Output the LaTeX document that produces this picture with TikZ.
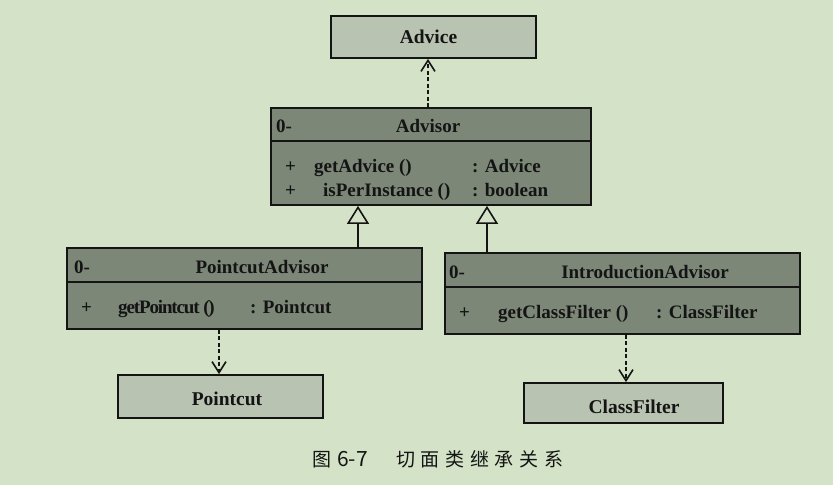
\documentclass[tikz,border=0pt]{standalone}
\usepackage{fontspec}
\setmainfont{Liberation Serif}
\newfontfamily\cjk{Noto Sans CJK SC}
\usetikzlibrary{arrows.meta}
\definecolor{bg}{HTML}{D4E3C7}
\definecolor{lightbox}{HTML}{B9C3B1}
\definecolor{darkbox}{HTML}{7C8777}
\definecolor{ink}{HTML}{141414}
\begin{document}
\begin{tikzpicture}[x=1pt,y=-1pt,
  lightcls/.style={draw=ink, line width=1.8pt, fill=lightbox, inner sep=0pt},
  darkcls/.style={draw=ink, line width=1.8pt, fill=darkbox, inner sep=0pt},
  divider/.style={draw=ink, line width=1.8pt},
  txt/.style={text=ink, inner sep=0pt, font=\fontsize{19}{22}\selectfont\bfseries},
  btxt/.style={text=ink, inner sep=0pt, font=\fontsize{19.5}{22}\selectfont\bfseries},
  captxt/.style={text=ink, inner sep=0pt, anchor=base west, font=\cjk\fontsize{19}{22}\selectfont},
  dep/.style={draw=ink, line width=1.6pt, dash pattern=on 4pt off 2.5pt, -{Straight Barb[length=11pt,width=14pt,line width=1.6pt]}},
  inh/.style={draw=ink, line width=1.6pt, -{Triangle[open, length=18pt, width=22pt, fill=bg, line width=1.6pt]}}
]
\fill[bg] (0,0) rectangle (833,485);
\useasboundingbox (0,0) rectangle (833,485);

% light boxes
\node[lightcls, minimum width=205pt, minimum height=42pt] (advice) at (433.5,37) {};
\node[btxt, anchor=base] (advicet) at (428.5,43) {Advice};
\node[lightcls, minimum width=205pt, minimum height=43pt] (pointcut) at (220.5,396.5) {};
\node[btxt, anchor=base] (pointcutt) at (227,405) {Pointcut};
\node[lightcls, minimum width=199pt, minimum height=40pt] (classfilter) at (623.5,403) {};
\node[btxt, anchor=base] (classfiltert) at (634,413) {ClassFilter};

% Advisor
\node[darkcls, minimum width=320pt, minimum height=97pt] (advisor) at (431,156.5) {};
\coordinate (d1) at (0,141);
\draw[divider] (advisor.west |- d1) -- (advisor.east |- d1);
\node[txt, anchor=base west] (a0) at (276,132) {0-};
\node[txt, anchor=base] (at) at (428,132) {Advisor};
\node[txt, anchor=base west] (ap1) at (285,172) {+};
\node[txt, anchor=base west] (am1) at (314,172) {getAdvice ()};
\node[txt, anchor=base west] (ar1) at (472,172) {: Advice};
\node[txt, anchor=base west] (ap2) at (285,196) {+};
\node[txt, anchor=base west] (am2) at (323,196) {isPerInstance ()};
\node[txt, anchor=base west] (ar2) at (472,196) {: boolean};

% PointcutAdvisor
\node[darkcls, minimum width=355pt, minimum height=81pt] (pcadv) at (244.5,288.5) {};
\coordinate (d2) at (0,282);
\draw[divider] (pcadv.west |- d2) -- (pcadv.east |- d2);
\node[txt, anchor=base west] (p0) at (74,273) {0-};
\node[txt, anchor=base] (pt) at (262,273) {PointcutAdvisor};
\node[txt, anchor=base west] (pp1) at (81,313) {+};
\node[txt, anchor=base west, font=\fontsize{19}{22}\selectfont\bfseries\addfontfeature{LetterSpace=-6}] (pm1) at (118,313) {getPointcut ()};
\node[txt, anchor=base west] (pr1) at (250,313) {: Pointcut};

% IntroductionAdvisor
\node[darkcls, minimum width=355pt, minimum height=81pt] (inadv) at (622.5,293.5) {};
\coordinate (d3) at (0,287);
\draw[divider] (inadv.west |- d3) -- (inadv.east |- d3);
\node[txt, anchor=base west] (i0) at (449,278) {0-};
\node[txt, anchor=base] (it) at (645,278) {IntroductionAdvisor};
\node[txt, anchor=base west] (ip1) at (459,318) {+};
\node[txt, anchor=base west] (im1) at (498,318) {getClassFilter ()};
\node[txt, anchor=base west] (ir1) at (656,318) {: ClassFilter};

% connectors
\coordinate (x1) at (428,0);
\coordinate (x2) at (358,0);
\coordinate (x3) at (487,0);
\coordinate (x4) at (219,0);
\coordinate (x5) at (626,0);
\draw[dep] (advisor.north -| x1) -- (advice.south -| x1);
\draw[inh] (pcadv.north -| x2) -- (advisor.south -| x2);
\draw[inh] (inadv.north -| x3) -- (advisor.south -| x3);
\draw[dep] (pcadv.south -| x4) -- (pointcut.north -| x4);
\draw[dep] (inadv.south -| x5) -- (classfilter.north -| x5);

% caption
\node[captxt] (cap1) at (312,466) {图};
\node[captxt, font=\cjk\fontsize{21}{22}\selectfont] (cap2) at (337,466) {6-7};
\node[captxt, font=\cjk\fontsize{19}{22}\selectfont\addfontfeature{LetterSpace=30}] (cap3) at (396,466) {切面类继承关系};
\end{tikzpicture}
\end{document}
